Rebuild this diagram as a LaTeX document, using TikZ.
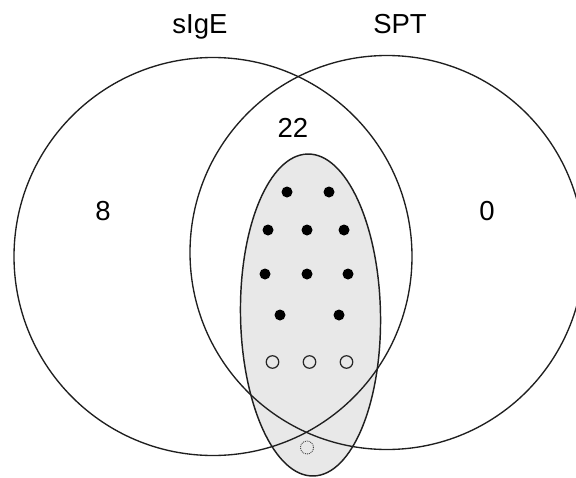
\documentclass[tikz,border=0pt]{standalone}
\usepackage{fontspec}
\setmainfont{Liberation Sans}
\usetikzlibrary{shapes.geometric}
\begin{document}
\begin{tikzpicture}[x=1pt,y=-1pt,
  setring/.style={circle,draw=black!88,line width=1.35pt,inner sep=0pt,outer sep=0pt,minimum size=#1},
  subset/.style={ellipse,draw=black!88,fill=black!9,line width=1.45pt,inner sep=0pt,
    minimum width=140pt,minimum height=322pt},
  hit/.style={circle,fill=black,inner sep=0pt,minimum size=11pt},
  miss/.style={circle,draw=black!85,line width=1.2pt,inner sep=0pt,minimum size=12.5pt},
  doubtful/.style={circle,draw=black!75,densely dotted,line width=0.9pt,inner sep=0pt,minimum size=13pt},
  txt/.style={font=\fontsize{27.5}{32}\selectfont,anchor=base,inner sep=0pt}
]
\useasboundingbox (0,0) rectangle (576,477);
\clip (0,0) rectangle (576,477);

% shaded subgroup spanning the overlap
\node[subset,rotate=1] (grp) at (310.5,315) {};

% the two test sets
\node[setring=398pt] (sige) at (213,256.5) {};
\node[setring=394pt] (spt) at (387,252.5) {};

% set titles and counts
\node[txt] (tsige) at (200,33) {sIgE};
\node[txt] (tspt) at (400,33) {SPT};
\node[txt] (nboth) at (293,137) {22};
\node[txt] (nsige) at (103,220) {8};
\node[txt] (nspt) at (487,220) {0};

% filled markers
\node[hit] (h1) at (287,192) {};
\node[hit] (h2) at (329,192) {};
\node[hit] (h3) at (268,230) {};
\node[hit] (h4) at (307,230) {};
\node[hit] (h5) at (344,230) {};
\node[hit] (h6) at (265,274) {};
\node[hit] (h7) at (307,274) {};
\node[hit] (h8) at (348,274) {};
\node[hit] (h9) at (280,315) {};
\node[hit] (h10) at (339,315) {};

% open markers
\node[miss] (m1) at (272.5,362) {};
\node[miss] (m2) at (309.5,362) {};
\node[miss] (m3) at (346.5,362) {};

% dotted marker below both sets
\node[doubtful] (q1) at (307,447.5) {};
\end{tikzpicture}
\end{document}
